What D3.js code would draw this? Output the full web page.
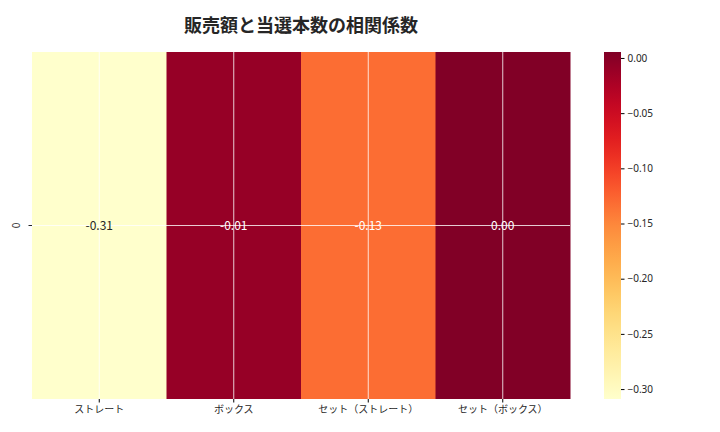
<!DOCTYPE html>
<html><head><meta charset="utf-8">
<script src="https://cdn.jsdelivr.net/npm/d3@7"></script>
<style>body{margin:0;background:#fff;font-family:"Noto Sans CJK JP","Noto Sans",sans-serif;}</style>
</head><body><div id="chart"></div>
<script>
var categories = ["ストレート", "ボックス", "セット（ストレート）", "セット（ボックス）"];
var values = [-0.3105, -0.0092, -0.1322, 0.0047];
var labels = ["-0.31", "-0.01", "-0.13", "0.00"];
var cbTicks = [0.00, -0.05, -0.10, -0.15, -0.20, -0.25, -0.30];

var svg = d3.select("#chart").append("svg").attr("width", 720).attr("height", 432);

//Heatmap area
var plotLeft = 32, plotRight = 570, plotTop = 52, plotBottom = 399;
var x = d3.scaleBand().domain(categories).range([plotLeft, plotRight]);
var y = d3.scaleBand().domain(["0"]).range([plotTop, plotBottom]);
var vmin = -0.309, vmax = 0.0054;
var color = d3.scaleSequential(d3.interpolateYlOrRd).domain([vmin, vmax]);
var midY = y("0") + y.bandwidth() / 2;

svg.selectAll("rect.cell").data(values).enter().append("rect")
    .attr("x", function(d, i) { return x(categories[i]); })
    .attr("y", y("0"))
    .attr("width", x.bandwidth() + 0.5)
    .attr("height", y.bandwidth())
    .attr("fill", function(d) { return color(d); });

//White grid lines
categories.forEach(function(c) {
    svg.append("line").attr("x1", x(c) + x.bandwidth() / 2).attr("x2", x(c) + x.bandwidth() / 2)
        .attr("y1", plotTop).attr("y2", plotBottom).attr("stroke", "#fff").attr("stroke-width", 0.8);
});
svg.append("line").attr("x1", plotLeft).attr("x2", plotRight).attr("y1", midY)
    .attr("y2", midY).attr("stroke", "#fff").attr("stroke-width", 0.8);

//Annotations
svg.selectAll("text.ann").data(values).enter().append("text")
    .attr("x", function(d, i) { return x(categories[i]) + x.bandwidth() / 2; })
    .attr("y", midY)
    .attr("dy", "0.35em").attr("text-anchor", "middle").attr("font-size", 12)
    .attr("fill", function(d) { return d < -0.2 ? "#262626" : "#fff"; })
    .text(function(d, i) { return labels[i]; });

//Axes
var xAxis = svg.append("g").attr("transform", "translate(0," + plotBottom + ")")
    .call(d3.axisBottom(x).tickSize(3.5));
xAxis.select(".domain").remove();
xAxis.selectAll("text").attr("font-size", 10).attr("font-family", "Noto Sans CJK JP").attr("fill", "#262626");

//Y tick "0"
svg.append("line").attr("x1", plotLeft - 3.5).attr("x2", plotLeft).attr("y1", midY).attr("y2", midY).attr("stroke", "#262626");
svg.append("text").attr("transform", "translate(" + (plotLeft - 12) + "," + midY + ") rotate(-90)")
    .attr("text-anchor", "middle").attr("font-size", 10).attr("fill", "#262626").text(y.domain()[0]);

//Colorbar
var cbX = 604, cbW = 17;
var cbScale = d3.scaleLinear().domain([vmin, vmax]).range([plotBottom, plotTop]);
var grad = svg.append("defs").append("linearGradient").attr("id", "cb")
    .attr("x1", 0).attr("y1", 1).attr("x2", 0).attr("y2", 0);
d3.range(0, 1.001, 0.05).forEach(function(t) {
    grad.append("stop").attr("offset", t).attr("stop-color", d3.interpolateYlOrRd(t));
});
svg.append("rect").attr("x", cbX).attr("y", plotTop).attr("width", cbW).attr("height", plotBottom - plotTop).attr("fill", "url(#cb)");
var cbAxis = svg.append("g").attr("transform", "translate(" + (cbX + cbW) + ",0)")
    .call(d3.axisRight(cbScale).tickValues(cbTicks).tickFormat(d3.format(".2f")).tickSize(3.5));
cbAxis.select(".domain").remove();
cbAxis.selectAll("text").attr("font-size", 10).attr("fill", "#262626").attr("font-family", "Noto Sans");

//Title
svg.append("text").attr("x", 301).attr("y", 32).attr("text-anchor", "middle")
    .attr("font-size", 18).attr("font-weight", "bold").attr("fill", "#262626")
    .text("販売額と当選本数の相関係数");
</script></body></html>
